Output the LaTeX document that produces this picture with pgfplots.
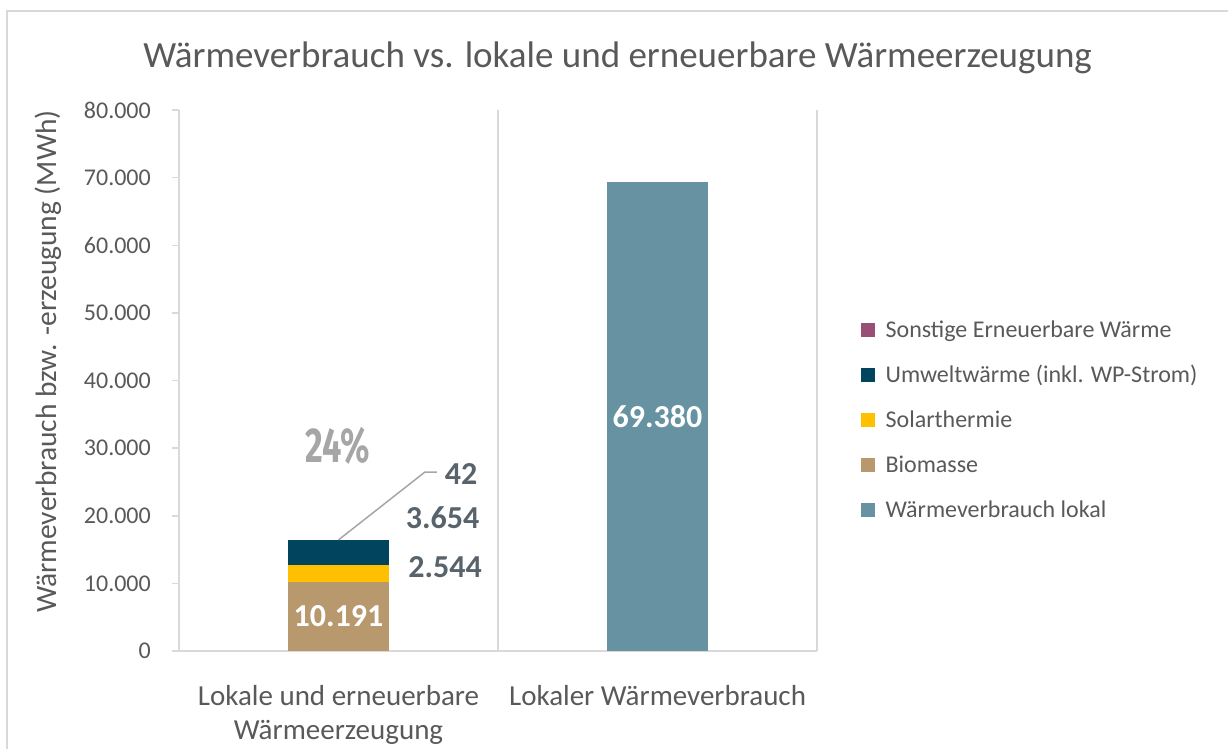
\documentclass[border=0pt]{standalone}
\usepackage{pgfplots}
\pgfplotsset{compat=1.18}
\usepackage{fontspec}
\setmainfont{Carlito}
\newfontfamily\condfont[FakeStretch=0.7]{Fira Sans}
\definecolor{txtgray}{HTML}{595959}
\definecolor{gridgray}{HTML}{D9D9D9}
\definecolor{leadgray}{HTML}{A6A6A6}
\definecolor{lblgray}{HTML}{58636B}
\definecolor{cWaerme}{HTML}{6792A1}
\definecolor{cBio}{HTML}{B8996E}
\definecolor{cSolar}{HTML}{FFC000}
\definecolor{cUmwelt}{HTML}{00445E}
\definecolor{cSonst}{HTML}{9A4E76}
\begin{document}
\begin{tikzpicture}
\useasboundingbox (0pt,0pt) rectangle (1228pt,-749pt);
\draw[gridgray, line width=1.5pt] (7pt,-770pt) -- (7pt,-11pt) -- (1240pt,-11pt);
\node[anchor=base, text=txtgray, font=\fontsize{37}{44}\selectfont, inner sep=0pt] at (617.5pt,-68pt) {Wärmeverbrauch vs. lokale und erneuerbare Wärmeerzeugung};
\node[anchor=base, rotate=90, text=txtgray, font=\fontsize{29.5}{35}\selectfont, inner sep=0pt] at (56pt,-361.5pt) {Wärmeverbrauch bzw. -erzeugung (MWh)};
\begin{axis}[
  at={(179pt,-651pt)}, anchor=south west,
  scale only axis, width=638pt, height=541pt,
  xmin=-0.5, xmax=1.5, ymin=0, ymax=80000,
  clip=false,
  axis x line*=bottom, axis y line*=left,
  axis line style={draw=gridgray, line width=1.5pt},
  ybar stacked, bar width=0.317,
  xtick={0,1},
  xticklabels={{Lokale und erneuerbare\\Wärmeerzeugung},{Lokaler Wärmeverbrauch}},
  xticklabel style={anchor=north, align=center, inner sep=0pt, text=txtgray, font=\fontsize{29}{34}\selectfont, yshift=-27pt},
  major x tick style={draw=none},
  ytick={0,10000,20000,30000,40000,50000,60000,70000,80000},
  scaled y ticks=false,
  tick align=outside, major tick length=7pt,
  major y tick style={draw=gridgray, line width=1.5pt},
  yticklabel style={anchor=east, inner sep=0pt, text=txtgray, font=\fontsize{24}{29}\selectfont, xshift=-21pt},
  /pgf/number format/1000 sep={.},
  /pgf/number format/assume math mode=true,
  reverse legend,
  legend image code/.code={\fill[#1] (0pt,-4.8pt) rectangle (14pt,9.2pt);},
  legend style={at={(1.0685,0.61)}, anchor=north west, draw=none, fill=none, inner sep=0pt,
    row sep=24pt, cells={anchor=west},
    nodes={inner sep=0pt, text height=16pt, text depth=5pt, font=\fontsize{24}{29}\selectfont, text=txtgray},
    /tikz/every odd column/.append style={column sep=10.7pt}},
]
\addplot[fill=cWaerme, draw=none] coordinates {(0,0) (1,69380)};
\addplot[fill=cBio, draw=none] coordinates {(0,10191) (1,0)};
\addplot[fill=cSolar, draw=none] coordinates {(0,2544) (1,0)};
\addplot[fill=cUmwelt, draw=none] coordinates {(0,3654) (1,0)};
\addplot[fill=cSonst, draw=none] coordinates {(0,42) (1,0)};
\legend{Wärmeverbrauch lokal, Biomasse, Solarthermie, Umweltwärme (inkl. WP-Strom), Sonstige Erneuerbare Wärme}
\coordinate (g1b) at (axis cs:0.5,0);
\coordinate (g1t) at (axis cs:0.5,80000);
\coordinate (g2b) at (axis cs:1.5,0);
\coordinate (g2t) at (axis cs:1.5,80000);
\coordinate (l1) at (axis cs:0,16431);
\coordinate (l2) at (axis cs:0.271,26470);
\coordinate (l3) at (axis cs:0.308,26470);
\coordinate (vBio) at (axis cs:0,5095.5);
\coordinate (vW) at (axis cs:1,34690);
\coordinate (vSol) at (axis cs:0.334,12421);
\coordinate (vUmw) at (axis cs:0.326,19667);
\coordinate (vSon) at (axis cs:0.384,26174);
\coordinate (vPct) at (axis cs:-0.003,30314);
\end{axis}
\draw[gridgray, line width=1.5pt] (g1b) -- (g1t);
\draw[gridgray, line width=1.5pt] (g2b) -- (g2t);
\draw[leadgray, line width=1.5pt] (l1) -- (l2) -- (l3);
\node[text=white, inner sep=0pt, font=\bfseries\fontsize{32}{38}\selectfont] at (vBio) {10.191};
\node[text=white, inner sep=0pt, font=\bfseries\fontsize{32}{38}\selectfont] at (vW) {69.380};
\node[text=lblgray, inner sep=0pt, font=\bfseries\fontsize{32}{38}\selectfont] at (vSol) {2.544};
\node[text=lblgray, inner sep=0pt, font=\bfseries\fontsize{32}{38}\selectfont] at (vUmw) {3.654};
\node[text=lblgray, inner sep=0pt, font=\bfseries\fontsize{32}{38}\selectfont] at (vSon) {42};
\node[text=leadgray, inner sep=0pt, font=\condfont\bfseries\fontsize{49}{54}\selectfont] at (vPct) {24\%};
\end{tikzpicture}
\end{document}
